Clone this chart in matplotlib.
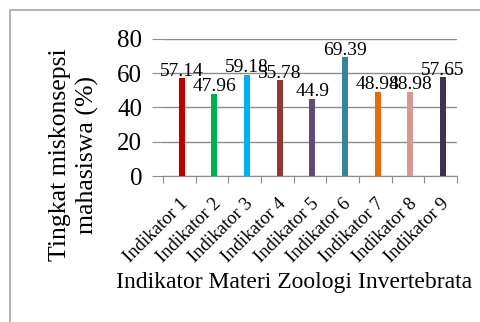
import numpy as np
import matplotlib.pyplot as plt
from matplotlib.patches import Rectangle

categories = ['Indikator 1', 'Indikator 2', 'Indikator 3', 'Indikator 4', 'Indikator 5',
              'Indikator 6', 'Indikator 7', 'Indikator 8', 'Indikator 9']
values = [57.14, 47.96, 59.18, 55.78, 44.9, 69.39, 48.98, 48.98, 57.65]
labels = ['57.14', '47.96', '59.18', '55.78', '44.9', '69.39', '48.98', '48.98', '57.65']
colors = ['#C00000', '#00B050', '#00B0F0', '#953735', '#604A7B',
          '#31859C', '#E46C0A', '#D99694', '#403151']

plt.rcParams['font.family'] = ['Liberation Serif', 'DejaVu Serif']

fig = plt.figure(figsize=(4.81, 3.22), dpi=100)
fig.patches.append(Rectangle((10 / 481, -0.1), 1.2, 1 - 10 / 322 + 0.1,
                             transform=fig.transFigure, fill=False,
                             edgecolor='#a6a6a6', linewidth=1.2))
ax = fig.add_axes([0.339, 0.4534, 0.611, 0.4255])

x = np.arange(len(categories))
ax.bar(x + 0.07, values, width=0.18, color=colors, zorder=3)
for xi, v, lab in zip(x, values, labels):
    ax.text(xi + 0.07, v - 0.8, lab, ha='center', va='bottom', fontsize=14, zorder=4)

ax.set_xlim(-0.5, len(categories) - 0.5)
ax.set_ylim(0, 80)
ax.set_yticks([0, 20, 40, 60, 80])
ax.yaxis.grid(True, color='#8c8c8c', linewidth=1)
ax.set_axisbelow(True)
for s in ['top', 'right', 'left']:
    ax.spines[s].set_visible(False)
ax.spines['bottom'].set_color('#8c8c8c')
ax.tick_params(axis='y', length=8, color='#8c8c8c', labelsize=18, pad=7)
ax.set_xticks(np.arange(-0.5, len(categories)), minor=False)
ax.set_xticklabels([])
ax.set_xticks(x, minor=True)
ax.set_xticklabels(categories, minor=True, rotation=45, ha='right',
                   rotation_mode='anchor', fontsize=13.5)
ax.tick_params(axis='x', which='major', length=5, color='#8c8c8c')
ax.tick_params(axis='x', which='minor', length=0, pad=14)

fig.text(74 / 481, 1 - 155 / 322, 'Tingkat miskonsepsi\nmahasiswa (%)', rotation=90,
         ha='center', va='center', multialignment='center', fontsize=18.5,
         linespacing=1.3)
fig.text(0.612, 1 - 288 / 322, 'Indikator Materi Zoologi Invertebrata', ha='center',
         va='baseline', fontsize=17)

fig.savefig('out.png', dpi=100)
